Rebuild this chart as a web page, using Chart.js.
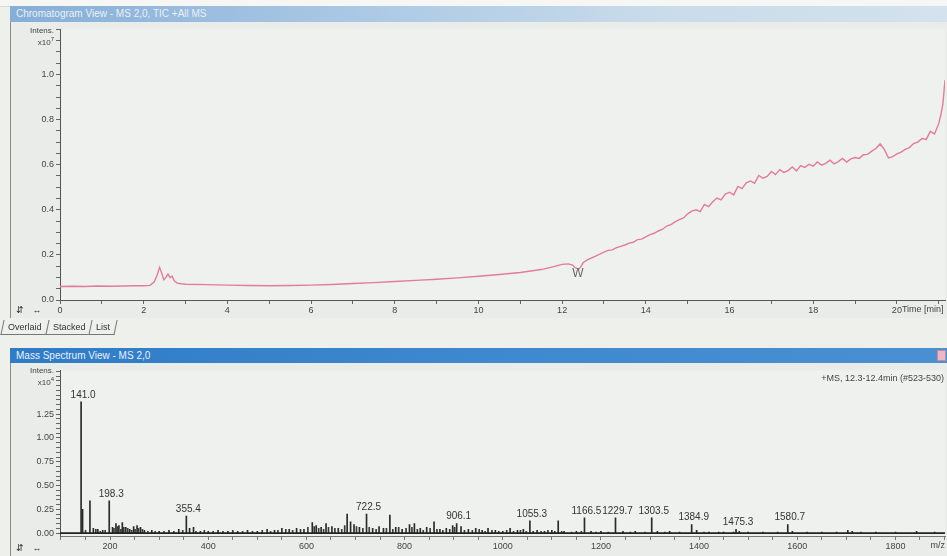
<!DOCTYPE html>
<html><head><meta charset="utf-8">
<script src="https://cdn.jsdelivr.net/npm/chart.js@4.4.0/dist/chart.umd.min.js"></script>
<style>
body{margin:0;width:947px;height:556px;overflow:hidden;background:#eef0ec;font-family:"Liberation Sans",Arial,sans-serif;position:relative}
.a{position:absolute}
#strip{left:0;top:0;width:947px;height:6px;background:#f6f7f5;border-bottom:1px solid #d8dcd8}
#t1{left:10px;top:6px;width:937px;height:16px;background:linear-gradient(to right,#86aed6,#a9c7e4 35%,#c9dcea 70%,#d3e2ec);color:#e8f0f8;font-size:10px;line-height:16px;padding-left:6px;box-sizing:border-box}
#f1{left:10px;top:22px;width:937px;height:296px;background:#e9ece8;border-left:1px solid #8a8e8a;box-sizing:border-box}
#t2{left:10px;top:348px;width:937px;height:15px;background:linear-gradient(to right,#2f7bc6,#3d88cf 50%,#4a90d2);color:#e9f1fa;font-size:10px;line-height:15px;padding-left:6px;box-sizing:border-box}
#close{right:1px;top:350px;width:9px;height:11px;background:#e8b8c4;border:1px solid #c98a9a;box-sizing:border-box}
#f2{left:10px;top:363px;width:937px;height:193px;background:#e9ece8;border-left:1px solid #8a8e8a;box-sizing:border-box}
canvas{position:absolute}
.lab{font-size:8px;color:#444;line-height:9px;text-align:right}
#tabs{left:2px;top:320px;height:17px;font-size:9px;color:#333}
.tab{display:inline-block;height:14px;line-height:14px;padding:0 5px;border:1px solid #777;border-top:none;margin-right:-1px;background:#eef0ec;transform:skewX(-12deg)}
.tab span{display:inline-block;transform:skewX(12deg)}
.ic{font-size:9px;color:#333;letter-spacing:3px}
</style></head><body>
<div class="a" id="strip"></div>
<div class="a" id="t1">Chromatogram View - MS 2,0, TIC +All MS</div>
<div class="a" id="f1"></div>
<div class="a" id="t2">Mass Spectrum View - MS 2,0</div>
<div class="a" id="close"></div>
<div class="a" id="f2"></div>
<canvas id="c1" width="947" height="300" style="left:0;top:22px"></canvas>
<canvas id="c2" width="947" height="193" style="left:0;top:363px"></canvas>
<div class="a lab" style="left:14px;top:26px;width:40px">Intens.<br>x10<sup style="font-size:6px">7</sup></div>
<div class="a lab" style="left:14px;top:366px;width:40px">Intens.<br>x10<sup style="font-size:6px">4</sup></div>
<div class="a ic" style="left:16px;top:305px">&#8693; &#8596;</div>
<div class="a ic" style="left:16px;top:543px">&#8693; &#8596;</div>
<div class="a" id="tabs"><div class="tab"><span>Overlaid</span></div><div class="tab"><span>Stacked</span></div><div class="tab"><span>List</span></div></div>
<script>
// ---- Chromatogram (TIC) ----
const times = [0,0.3,0.6,0.9,1.2,1.5,1.8,2.0,2.15,2.25,2.32,2.38,2.43,2.48,2.53,2.58,2.63,2.68,2.73,2.8,2.9,3.0,3.5,4.0,4.5,5.0,5.5,6.0,6.5,7.0,7.5,8.0,8.5,9.0,9.5,10.0,10.5,11.0,11.5,11.8,12.0,12.15,12.25,12.3,12.35,12.4,12.45,12.5,12.6,12.8,
13.0,13.1,13.2,13.3,13.4,13.5,13.6,13.7,13.8,13.9,14.0,14.1,14.2,14.3,14.4,14.5,14.6,14.7,14.8,14.9,15.0,15.1,15.2,15.3,15.4,15.5,15.6,15.7,15.8,15.9,16.0,16.1,16.2,16.3,16.4,16.5,16.6,16.7,16.8,16.9,17.0,17.1,17.2,17.3,17.4,17.5,17.6,17.7,17.8,17.9,18.0,18.1,18.2,18.3,18.4,18.5,18.6,18.7,18.8,18.9,19.0,19.1,19.2,19.3,19.4,19.5,19.6,19.7,19.8,19.9,20.0,20.1,20.2,20.3,20.4,20.5,20.6,20.7,20.8,20.9,21.0,21.05,21.1,21.15];
const intensity = [0.060,0.061,0.060,0.062,0.061,0.062,0.063,0.063,0.065,0.080,0.110,0.145,0.120,0.090,0.100,0.115,0.100,0.105,0.085,0.075,0.072,0.070,0.068,0.066,0.064,0.063,0.064,0.066,0.069,0.073,0.077,0.082,0.087,0.092,0.098,0.105,0.113,0.122,0.135,0.148,0.158,0.160,0.155,0.145,0.140,0.138,0.148,0.165,0.178,0.195,
0.212,0.220,0.222,0.232,0.238,0.244,0.252,0.256,0.268,0.270,0.280,0.290,0.296,0.306,0.314,0.328,0.334,0.346,0.356,0.364,0.382,0.394,0.400,0.392,0.424,0.414,0.436,0.452,0.444,0.470,0.478,0.466,0.504,0.494,0.520,0.528,0.518,0.552,0.540,0.548,0.570,0.556,0.578,0.566,0.574,0.590,0.572,0.596,0.588,0.602,0.594,0.612,0.598,0.606,0.620,0.604,0.614,0.628,0.612,0.626,0.632,0.628,0.644,0.646,0.660,0.672,0.692,0.668,0.630,0.636,0.648,0.656,0.668,0.676,0.694,0.700,0.716,0.712,0.748,0.736,0.782,0.820,0.870,0.975];
const topXTicks = [0,1,2,3,4,5,6,7,8,9,10,11,12,13,14,15,16,17,18,19,20,21];
const topXLabels = ['0','','2','','4','','6','','8','','10','','12','','14','','16','','18','','20',''];
const topYLabels = ['0.0','0.2','0.4','0.6','0.8','1.0'];
const markerTime = 12.38, markerValue = 0.118, markerText = 'W';

// ---- Mass spectrum ----
const mz = [141.0,144,159,166,175,185,198.3,205,212,218,225,232,240,248,255,262,270,285,300,320,340,355.4,362,370,384,400,420,440,460,480,500,520,535,550,565,580,595,612,620,630,640,652,665,683,690,697,708,722.5,735,748,757,770,782,795,810,820,832,845,860,872,885,898,906.1,915,930,945,958,970,985,1000,1015,1030,1042,1055.3,1070,1085,1100,1113,1125,1150,1166.5,1180,1200,1229.7,1245,1270,1303.5,1315,1340,1384.9,1395,1420,1450,1475.3,1482,1530,1580.7,1590,1650,1703,1712,1760,1843];
const abund = [1.38,0.25,0.34,0.05,0.04,0.03,0.34,0.06,0.10,0.08,0.11,0.06,0.04,0.07,0.08,0.06,0.03,0.03,0.02,0.03,0.04,0.18,0.05,0.06,0.02,0.02,0.03,0.02,0.02,0.03,0.02,0.04,0.03,0.05,0.04,0.05,0.04,0.11,0.08,0.06,0.10,0.07,0.05,0.20,0.12,0.09,0.06,0.20,0.05,0.07,0.05,0.19,0.06,0.04,0.09,0.10,0.05,0.06,0.12,0.04,0.05,0.08,0.10,0.07,0.04,0.05,0.03,0.05,0.03,0.02,0.05,0.03,0.04,0.13,0.03,0.02,0.03,0.13,0.02,0.02,0.16,0.02,0.02,0.16,0.02,0.02,0.16,0.02,0.02,0.09,0.03,0.01,0.01,0.04,0.02,0.01,0.09,0.02,0.01,0.03,0.02,0.01,0.02];
const mzMinor = [150,171,180,190,208,215,222,228,236,244,251,258,266,277,292,310,330,348,375,392,410,430,450,470,490,510,527,542,558,572,588,603,616,625,635,645,658,672,678,702,715,728,742,763,776,788,803,815,826,838,852,866,878,892,902,922,938,952,964,978,992,1008,1022,1036,1048,1062,1078,1092,1106,1120,1140,1160,1190,1215,1260,1290,1330,1360,1410,1440,1470,1500,1560,1620,1680,1730,1800,1880];
const abundMinor = [0.03,0.04,0.02,0.03,0.05,0.07,0.04,0.06,0.05,0.03,0.04,0.05,0.04,0.02,0.02,0.02,0.02,0.03,0.02,0.03,0.02,0.02,0.03,0.02,0.02,0.03,0.02,0.03,0.04,0.03,0.04,0.06,0.07,0.05,0.04,0.06,0.05,0.04,0.08,0.07,0.05,0.06,0.04,0.05,0.04,0.06,0.05,0.06,0.04,0.03,0.05,0.04,0.03,0.04,0.06,0.03,0.03,0.04,0.02,0.03,0.02,0.03,0.02,0.03,0.02,0.02,0.02,0.03,0.02,0.02,0.01,0.02,0.01,0.01,0.01,0.01,0.01,0.01,0.01,0.01,0.01,0.01,0.01,0.01,0.01,0.01,0.01,0.01];
const peakLabels = [141.0,198.3,355.4,722.5,906.1,1055.3,1166.5,1229.7,1303.5,1384.9,1475.3,1580.7];
const msXTicks = [100,150,200,250,300,350,400,450,500,550,600,650,700,750,800,850,900,950,1000,1050,1100,1150,1200,1250,1300,1350,1400,1450,1500,1550,1600,1650,1700,1750,1800,1850,1900];
const msXLabels = ['200','400','600','800','1000','1200','1400','1600','1800'];
const msYLabels = ['0.00','0.25','0.50','0.75','1.00','1.25'];
const spectrumInfo = '+MS, 12.3-12.4min (#523-530)';

const FONT = {family:'"Liberation Sans", Arial, sans-serif', size:9};
const bgPlugin = {id:'bg', beforeDraw(c){const a=c.chartArea,x=c.ctx;x.save();x.fillStyle='#eef1ed';x.fillRect(a.left,a.top,a.right-a.left,a.bottom-a.top);x.restore();}};

function minorTicks(lo,hi,step){const r=[];for(let v=lo;v<=hi+1e-9;v+=step)r.push({value:Math.round(v*1000)/1000});return r;}

new Chart(document.getElementById('c1'),{
  type:'line',
  data:{datasets:[{data:times.map((t,i)=>({x:t,y:intensity[i]})),borderColor:'#e27d98',borderWidth:1.4,pointRadius:0,tension:0}]},
  options:{animation:false,responsive:false,
    layout:{padding:{top:3,right:2,left:0,bottom:0}},
    plugins:{legend:{display:false},tooltip:{enabled:false}},
    scales:{
      x:{type:'linear',min:0,max:21.15,afterFit(s){s.height=22;},
        afterBuildTicks(s){s.ticks=topXTicks.map(v=>({value:v}));},
        grid:{drawOnChartArea:false,tickLength:4,color:'#666'},border:{color:'#555',width:1},
        ticks:{autoSkip:false,maxRotation:0,padding:1,color:'#444',font:FONT,callback:(v,i)=>topXLabels[i]}},
      y:{min:0,max:1.2,afterFit(s){s.width=60;},
        afterBuildTicks(s){s.ticks=minorTicks(0,1.2,0.05);},
        grid:{drawOnChartArea:false,tickLength:4,color:'#666'},border:{color:'#555',width:1},
        ticks:{autoSkip:false,padding:2,color:'#444',font:FONT,callback:(v)=>{const k=Math.round(v*10);return (Math.abs(v*10-k)<1e-6&&k%2===0&&k<=10)?topYLabels[k/2]:'';}}}
    }},
  plugins:[bgPlugin,{id:'txt',afterDraw(c){const x=c.ctx,sx=c.scales.x,sy=c.scales.y;x.save();
    x.font='12px "Liberation Sans", Arial, sans-serif';x.fillStyle='#666';x.textAlign='center';x.textBaseline='middle';
    x.fillText(markerText,sx.getPixelForValue(markerTime),sy.getPixelForValue(markerValue));
    x.font='9px "Liberation Sans", Arial, sans-serif';x.fillStyle='#444';x.textAlign='left';x.textBaseline='top';
    x.fillText('Time [min]',sx.getPixelForValue(20)+5,sy.bottom+5);x.restore();}}]
});

new Chart(document.getElementById('c2'),{
  type:'bar',
  data:{datasets:[
    {type:'line',data:[{x:98,y:0},{x:1901,y:0}],borderColor:'#222',borderWidth:1.6,pointRadius:0,order:0},
    {type:'bar',data:mz.map((m,i)=>({x:m,y:abund[i]})),backgroundColor:'#2a2a2a',barThickness:1,grouped:false,order:1},
    {type:'bar',data:mzMinor.map((m,i)=>({x:m,y:abundMinor[i]})),backgroundColor:'#3a3a3a',barThickness:1,grouped:false,order:2}
  ]},
  options:{animation:false,responsive:false,
    layout:{padding:{top:2,right:2,left:0,bottom:0}},
    plugins:{legend:{display:false},tooltip:{enabled:false}},
    scales:{
      x:{type:'linear',min:98,max:1901,offset:false,afterFit(s){s.height=20;},
        afterBuildTicks(s){s.ticks=msXTicks.map(v=>({value:v}));},
        grid:{drawOnChartArea:false,tickLength:4,color:'#777',offset:false},border:{color:'#777',width:1},
        ticks:{autoSkip:false,maxRotation:0,padding:1,color:'#444',font:FONT,callback:(v)=>{const k=msXLabels.indexOf(String(v));return k>=0?msXLabels[k]:'';}}},
      y:{min:-0.03,max:1.71,afterFit(s){s.width=60;},
        afterBuildTicks(s){s.ticks=minorTicks(0,1.7,0.05);},
        grid:{drawOnChartArea:false,tickLength:4,color:'#666'},border:{color:'#555',width:1},
        ticks:{autoSkip:false,padding:2,color:'#444',font:FONT,callback:(v)=>{const k=Math.round(v*4);return (Math.abs(v*4-k)<1e-6&&k<=5)?msYLabels[k]:'';}}}
    }},
  plugins:[bgPlugin,{id:'lbl',afterDraw(c){const x=c.ctx,sx=c.scales.x,sy=c.scales.y;x.save();
    x.font='10px "Liberation Sans", Arial, sans-serif';x.fillStyle='#333';x.textAlign='center';x.textBaseline='bottom';
    peakLabels.forEach(m=>{const h=abund[mz.indexOf(m)];x.fillText(m.toFixed(1),sx.getPixelForValue(m)+2,sy.getPixelForValue(h)-2);});
    x.font='9px "Liberation Sans", Arial, sans-serif';x.fillStyle='#444';x.textAlign='right';x.textBaseline='top';
    x.fillText(spectrumInfo,c.chartArea.right-1,c.chartArea.top+4);
    x.textBaseline='top';x.fillText('m/z',c.chartArea.right,sy.bottom+5);x.restore();}}]
});
</script>
</body></html>
